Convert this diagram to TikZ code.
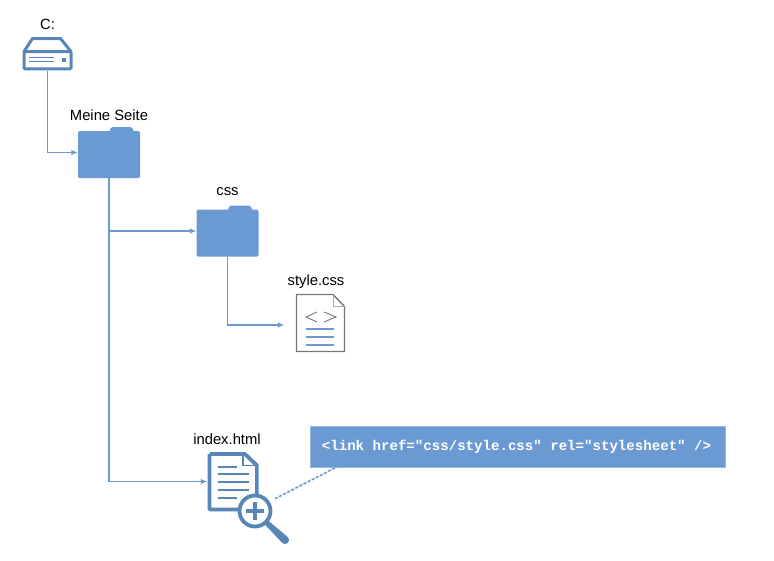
\documentclass[tikz,border=0pt]{standalone}
\usepackage{fontspec}
\setmainfont{Liberation Sans}
\setmonofont{Liberation Mono}
\usetikzlibrary{arrows.meta,calc,positioning}
\definecolor{folder_color}{RGB}{106,154,209}
\definecolor{icon_color}{RGB}{88,134,182}
\definecolor{sheet_color}{RGB}{118,118,118}

\begin{document}
\begin{tikzpicture} [x=1pt, y=-1pt,
caption/.style    = { inner sep=0pt, font=\fontsize{14.8}{16}\selectfont },
folder/.style    = { rectangle, minimum width=62pt, minimum height=51pt, inner sep=0pt,
    path picture={
    \begin{scope}[shift={(path picture bounding box.center)}]
    \fill[folder_color, rounded corners=1.5pt] (-31,-21.5) rectangle (31,25.5);
    \fill[folder_color, rounded corners=1.5pt] (0,-20) -- (2,-25.5) -- (23,-25.5) -- (25,-20) -- cycle;
    \end{scope}} },
drive/.style    = { rectangle, minimum width=50pt, minimum height=34pt, inner sep=0pt,
    path picture={
    \begin{scope}[shift={(path picture bounding box.center)}, icon_color]
    \draw[line width=3pt, line join=round] (-23.5,-2) -- (-15,-15) -- (13,-15) -- (23.5,-2);
    \draw[line width=3pt, rounded corners=1pt] (-23.5,-2) rectangle (23.5,15.3);
    \draw[line width=1.4pt] (-19,4) -- (6,4) (-19,8) -- (6,8);
    \fill (14,4) rectangle (18,8.5);
    \end{scope}} },
sheet/.style    = { rectangle, minimum width=50pt, minimum height=59pt, inner sep=0pt,
    path picture={
    \begin{scope}[shift={(path picture bounding box.center)}]
    \draw[sheet_color, line width=1.4pt] (-24,-28.5) -- (12.5,-28.5) -- (24,-16.5) -- (24,28.5) -- (-24,28.5) -- cycle;
    \draw[sheet_color!60, line width=1pt] (12.5,-28.5) -- (12.5,-16.5) -- (24,-16.5);
    \draw[sheet_color, line width=.9pt] (-3.5,-11) -- (-14.5,-6) -- (-3.5,-1) (3.5,-11) -- (15.5,-6) -- (3.5,-1);
    \draw[folder_color, line width=1.1pt] (-14.5,6) -- (13,6) (-14.5,14) -- (13,14) (-14.5,22) -- (13,22);
    \end{scope}} },
page/.style    = { rectangle, minimum width=51pt, minimum height=60pt, inner sep=0pt,
    path picture={
    \begin{scope}[shift={(path picture bounding box.center)}, icon_color]
    \draw[line width=3.8pt, line join=round] (-23.5,-27.5) -- (12,-27.5) -- (24,-16) -- (24,30) (-23.5,-27.5) -- (-23.5,28) -- (20,28);
    \draw[line width=1.2pt] (10,-28.5) -- (10,-16) -- (24,-16);
    \draw[line width=1.6pt] (-15,-14.5) -- (4,-14.5) (-15,-7.5) -- (16,-7.5) (-15,.5) -- (16,.5)
        (-15,8.5) -- (16,8.5) (-15,16.5) -- (4,16.5);
    \end{scope}} },
lens/.style    = { circle, draw=icon_color, line width=3.8pt, fill=white, minimum size=31pt, inner sep=0pt,
    path picture={
    \draw[icon_color, line width=4pt] ($(path picture bounding box.center)+(-9,0)$) -- ++(18,0)
        ($(path picture bounding box.center)+(0,-9)$) -- ++(0,18);} },
note/.style    = { rectangle, draw=folder_color!70, fill=folder_color, minimum width=415pt, minimum height=41pt,
    text=white, font=\fontsize{14.1}{16}\selectfont\ttfamily\bfseries },
line/.style     = { draw=folder_color, line width=1.1pt, -{Latex[length=6.5pt,width=5.5pt]} },
dots/.style     = { draw=folder_color, line width=1.6pt, dash pattern=on 3pt off 1.6pt },
]
\useasboundingbox (0,0) rectangle (774,560);

% icons
\node [drive] (drive) at (47.5,53.5) {};
\node [folder] (seite) at (109,152.5) {};
\node [folder] (css) at (227.5,231) {};
\node [sheet] (stylecss) at (320.5,323) {};
\node [page] (index) at (233,481.5) {};
\node [note] (link) at (518,446.5) {<link href="css/style.css" rel="stylesheet" />\kern3pt};

% captions
\node [caption, above=6pt of drive] (drivetext) {C:};
\node [caption, above=5.5pt of seite] (seitetext) {Meine Seite};
\node [caption, above=9pt of css] (csstext) {css};
\node [caption, above=5pt of stylecss, xshift=-4.5pt] (styletext) {style.css};
\node [caption, above=6pt of index, xshift=-6pt] (indextext) {index.html};

% connect all nodes defined above
\path [line] (drive) |- (seite);
\path [line] (seite) |- (index);
\path [line] (seite |- css) -- (css);
\path [line, shorten >=11pt] (css) |- ([yshift=-2pt]stylecss.west);

% magnifier on top of the page
\coordinate (grip) at (285,540);
\node [lens] (lens) at (255,511) {};
\fill [icon_color, line join=round, draw=icon_color, line width=1pt] ($(lens.-45)+(1.5,-1.5)$) -- ($(grip)+(2.5,-2.5)$)
    arc (-45:135:3.5) -- ($(lens.-45)+(-1.5,1.5)$) -- cycle;
\path [dots, shorten <=6pt] (lens.33) -- ($(link.south west)+(26,0)$);

\end{tikzpicture}
\end{document}
